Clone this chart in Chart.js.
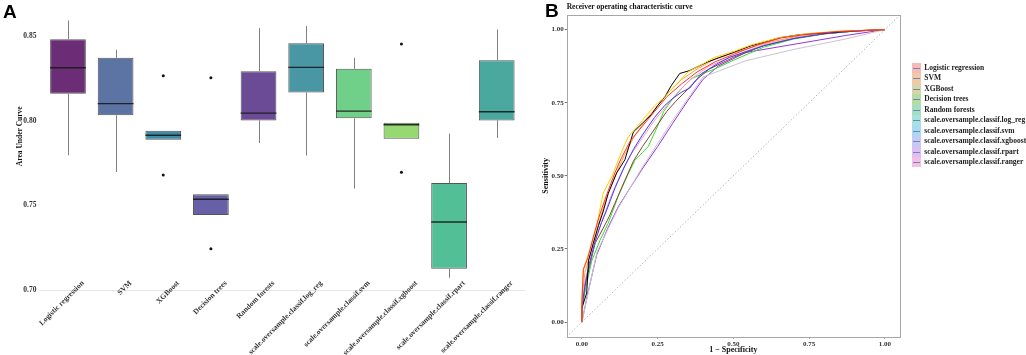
<!DOCTYPE html>
<html><head><meta charset="utf-8">
<script src="https://cdn.jsdelivr.net/npm/chart.js@4/dist/chart.umd.min.js"></script>
<style>
html,body{margin:0;padding:0;background:#fff;width:1026px;height:355px;overflow:hidden;}
#wrapA{position:absolute;left:0;top:0;width:530px;height:355px;}
#wrapB{position:absolute;left:530px;top:0;width:496px;height:355px;}
.panel{position:absolute;font-family:"Liberation Sans",Arial,sans-serif;font-weight:bold;font-size:19px;line-height:19px;color:#000;}
#legend{position:absolute;left:912px;top:63px;font-family:"Liberation Serif",serif;font-weight:bold;font-size:7.5px;color:#222;}
.row{position:relative;height:10.44px;white-space:nowrap;}
.key{position:absolute;left:0;top:0;width:9px;height:10.44px;}
.key i{position:absolute;left:1px;right:1px;top:5px;height:1px;background:#6f86b8;}
.lbl{position:absolute;left:12.3px;top:0;line-height:10.44px;}
</style></head>
<body>
<div id="wrapA"><canvas id="cA" width="530" height="355"></canvas></div>
<div id="wrapB"><canvas id="cB" width="496" height="355"></canvas></div>
<div class="panel" style="left:3px;top:2px;">A</div>
<div class="panel" style="left:545px;top:1px;">B</div>
<div id="legend"></div>
<script>
// ---------- Panel A data ----------
const categories = ['Logistic regression','SVM','XGBoost','Decision trees','Random forests',
  'scale.oversample.classif.log_reg','scale.oversample.classif.svm','scale.oversample.classif.xgboost',
  'scale.oversample.classif.rpart','scale.oversample.classif.ranger'];
const whiskerLow  = [0.7797,0.7698,0.7889,0.7444,0.7869,0.7795,0.7600,0.7894,0.7073,0.7900];
const q1          = [0.8160,0.8033,0.7889,0.7444,0.8003,0.8168,0.8015,0.7894,0.7126,0.8003];
const medians     = [0.8314,0.8102,0.7915,0.7537,0.8046,0.8316,0.8058,0.7977,0.7403,0.8054];
const q3          = [0.8483,0.8373,0.7942,0.7566,0.8294,0.8459,0.8308,0.7989,0.7633,0.8359];
const whiskerHigh = [0.8594,0.8420,0.7942,0.7566,0.8548,0.8560,0.8373,0.7989,0.7925,0.8540];
const outlierCat  = [3,3,4,4,8,8];
const outlierVal  = [0.8267,0.7680,0.8255,0.7244,0.8455,0.7696];
const boxColors = ['#6b2d76','#5c74a3','#3f8ca8','#6661a6','#6b4b96','#4996a5','#70cf88','#96d972','#52bf96','#4aa99f'];
const yTicksA = [0.70,0.75,0.80,0.85];

// ---------- Panel B data ----------
const seriesNames = ['Logistic regression','SVM','XGBoost','Decision trees','Random forests',
  'scale.oversample.classif.log_reg','scale.oversample.classif.svm','scale.oversample.classif.xgboost',
  'scale.oversample.classif.rpart','scale.oversample.classif.ranger'];
const legendKeyColors = ['#f7bab6','#f0caa6','#d9d5a6','#b6dca6','#a6dfc0','#a6e2de','#aad9f3','#c4c9f5','#ddbef5','#f5bee4'];
const curveColors = ['#ff3030','#ffd000','#000000','#cbc2cf','#3a3aff','#ff9ab0','#8b4030','#30e030','#9933dd','#ffa040'];
const rocLR = [[0,0],[0,0.06],[0.005,0.18],[0.02,0.22],[0.04,0.3],[0.06,0.37],[0.08,0.43],[0.109,0.51],[0.13,0.56],[0.16,0.62],[0.2,0.67],[0.24,0.72],[0.28,0.77],[0.33,0.815],[0.38,0.855],[0.44,0.89],[0.5,0.915],[0.58,0.948],[0.66,0.972],[0.75,0.985],[0.85,0.994],[1,1]];
const rocSVM = [[0,0],[0,0.09],[0.005,0.18],[0.027,0.25],[0.045,0.31],[0.07,0.44],[0.1,0.5],[0.13,0.58],[0.153,0.633],[0.2,0.69],[0.24,0.74],[0.268,0.764],[0.3,0.8],[0.35,0.855],[0.438,0.905],[0.5,0.925],[0.56,0.948],[0.65,0.972],[0.75,0.987],[0.85,0.995],[1,1]];
const rocXGB = [[0,0],[0,0.048],[0.016,0.099],[0.022,0.21],[0.038,0.27],[0.055,0.33],[0.071,0.38],[0.087,0.44],[0.115,0.51],[0.142,0.555],[0.17,0.65],[0.2,0.68],[0.23,0.71],[0.25,0.74],[0.274,0.77],[0.296,0.81],[0.323,0.85],[0.356,0.86],[0.416,0.89],[0.482,0.915],[0.559,0.945],[0.652,0.972],[0.72,0.983],[0.816,0.99],[0.9,0.996],[1,1]];
const rocDT = [[0,0],[0.05,0.24],[0.12,0.39],[0.2,0.53],[0.3,0.69],[0.4,0.838],[0.542,0.894],[0.707,0.934],[0.871,0.968],[1,1]];
const rocRF = [[0,0],[0,0.05],[0.011,0.13],[0.025,0.2],[0.045,0.28],[0.065,0.34],[0.082,0.383],[0.11,0.46],[0.14,0.53],[0.17,0.59],[0.2,0.64],[0.24,0.7],[0.274,0.741],[0.3,0.765],[0.329,0.786],[0.356,0.8],[0.394,0.849],[0.45,0.885],[0.487,0.905],[0.6,0.945],[0.7,0.97],[0.8,0.986],[0.9,0.995],[1,1]];
const rocLogReg = [[0,0],[0,0.05],[0.01,0.14],[0.03,0.22],[0.05,0.3],[0.075,0.37],[0.1,0.44],[0.13,0.51],[0.16,0.57],[0.2,0.63],[0.24,0.69],[0.28,0.74],[0.32,0.79],[0.36,0.83],[0.42,0.875],[0.5,0.91],[0.6,0.948],[0.7,0.972],[0.8,0.987],[0.9,0.995],[1,1]];
const rocSvmOS = [[0,0],[0,0.04],[0.01,0.12],[0.025,0.19],[0.044,0.27],[0.07,0.32],[0.09,0.36],[0.109,0.406],[0.14,0.48],[0.17,0.55],[0.2,0.6],[0.24,0.66],[0.28,0.72],[0.31,0.755],[0.34,0.786],[0.38,0.83],[0.42,0.865],[0.5,0.905],[0.6,0.945],[0.7,0.97],[0.8,0.986],[0.9,0.995],[1,1]];
const rocXgbOS = [[0,0],[0,0.04],[0.01,0.1],[0.02,0.15],[0.033,0.21],[0.06,0.28],[0.087,0.338],[0.12,0.43],[0.15,0.5],[0.175,0.553],[0.2,0.58],[0.219,0.6],[0.25,0.67],[0.27,0.72],[0.296,0.758],[0.33,0.8],[0.361,0.832],[0.4,0.85],[0.438,0.865],[0.5,0.895],[0.6,0.94],[0.7,0.968],[0.8,0.985],[0.9,0.995],[1,1]];
const rocRpartOS = [[0,0],[0.02,0.1],[0.049,0.23],[0.085,0.32],[0.12,0.394],[0.16,0.46],[0.197,0.52],[0.25,0.6],[0.3,0.68],[0.35,0.758],[0.4,0.83],[0.45,0.875],[0.542,0.922],[0.707,0.951],[0.871,0.98],[1,1]];
const rocRangerOS = [[0,0],[0,0.07],[0.01,0.17],[0.03,0.24],[0.05,0.32],[0.08,0.42],[0.11,0.5],[0.14,0.57],[0.17,0.63],[0.21,0.69],[0.25,0.74],[0.29,0.79],[0.33,0.83],[0.38,0.865],[0.44,0.9],[0.5,0.92],[0.6,0.952],[0.7,0.975],[0.8,0.988],[0.9,0.996],[1,1]];
const rocSeries = [rocLR,rocSVM,rocXGB,rocDT,rocRF,rocLogReg,rocSvmOS,rocXgbOS,rocRpartOS,rocRangerOS];
const rocTicks = [0,0.25,0.5,0.75,1];
const diagonal = [[-0.05,-0.05],[1.05,1.05]];

const SERIF = '"Liberation Serif","Times New Roman",serif';
Chart.defaults.font.family = SERIF;
Chart.defaults.color = '#333';

// ---------- Panel A ----------
const boxExtras = {
  id:'boxExtras',
  beforeDatasetsDraw(chart){
    const ctx = chart.ctx, xs = chart.scales.x, ys = chart.scales.y;
    ctx.save();
    // gridline at 0.70
    ctx.strokeStyle = '#e6e6e6'; ctx.lineWidth = 1;
    const gy = Math.round(ys.getPixelForValue(yTicksA[0])) + 0.5;
    ctx.beginPath(); ctx.moveTo(chart.chartArea.left, gy); ctx.lineTo(chart.chartArea.right, gy); ctx.stroke();
    ctx.strokeStyle = '#808080';
    categories.forEach((c,i)=>{
      const x = Math.round(xs.getPixelForValue(i+1)) + 0.5;
      ctx.beginPath();
      ctx.moveTo(x, ys.getPixelForValue(whiskerLow[i])); ctx.lineTo(x, ys.getPixelForValue(q1[i]));
      ctx.moveTo(x, ys.getPixelForValue(q3[i])); ctx.lineTo(x, ys.getPixelForValue(whiskerHigh[i]));
      ctx.stroke();
    });
    ctx.restore();
  },
  afterDatasetsDraw(chart){
    const ctx = chart.ctx, ys = chart.scales.y;
    const meta = chart.getDatasetMeta(0);
    ctx.save();
    ctx.strokeStyle = 'rgba(25,25,25,0.9)'; ctx.lineWidth = 1.4;
    meta.data.forEach((el,i)=>{
      const y = ys.getPixelForValue(medians[i]);
      ctx.beginPath(); ctx.moveTo(el.x - el.width/2, y); ctx.lineTo(el.x + el.width/2, y); ctx.stroke();
    });
    ctx.restore();
  },
  afterDraw(chart){
    const ctx = chart.ctx, xs = chart.scales.x, ca = chart.chartArea;
    ctx.save();
    ctx.fillStyle = '#333';
    ctx.font = 'bold 7.5px ' + SERIF;
    ctx.textAlign = 'right'; ctx.textBaseline = 'middle';
    categories.forEach((c,i)=>{
      const x = xs.getPixelForValue(i+1);
      ctx.save();
      ctx.translate(x + 15, ca.bottom - 9);
      ctx.rotate(-Math.PI/4);
      ctx.fillText(c, 0, 0);
      ctx.restore();
    });
    ctx.fillStyle = '#111';
    ctx.font = 'bold 7.5px ' + SERIF;
    ctx.textAlign = 'center';
    ctx.translate(20, (ca.top + ca.bottom)/2 - 13);
    ctx.rotate(-Math.PI/2);
    ctx.fillText('Area Under Curve', 0, 0);
    ctx.restore();
  }
};

new Chart(document.getElementById('cA'), {
  type:'bar',
  data:{
    datasets:[
      { type:'bar', data: categories.map((c,i)=>({x:i+1, y:[q1[i], q3[i]]})),
        backgroundColor: boxColors, borderColor:'rgba(55,55,55,0.85)', borderWidth:1, borderSkipped:false,
        barPercentage:0.75, categoryPercentage:1 },
      { type:'scatter', data: outlierCat.map((c,i)=>({x:c, y:outlierVal[i]})),
        backgroundColor:'#111', borderColor:'#111', pointRadius:1.5, pointBorderWidth:0 }
    ]
  },
  options:{
    responsive:false, animation:false, devicePixelRatio:1,
    layout:{padding:{left:0,right:4.7,top:7,bottom:0}},
    plugins:{legend:{display:false}, tooltip:{enabled:false}},
    scales:{
      x:{ type:'linear', min:0.4, max:10.6, offset:false,
          afterBuildTicks(s){ s.ticks = categories.map((c,i)=>({value:i+1})); },
          afterFit(s){ s.height = 64; },
          ticks:{display:false}, grid:{display:false}, border:{display:false} },
      y:{ min:0.6995, max:0.867,
          afterBuildTicks(s){ s.ticks = yTicksA.map(v=>({value:v})); },
          afterFit(s){ s.width = 39.4; },
          ticks:{ callback:v=>v.toFixed(2), font:{size:7.5, weight:'bold', family:SERIF}, color:'#333', padding:3 },
          grid:{display:false, drawTicks:false}, border:{display:false} }
    }
  },
  plugins:[boxExtras]
});

// ---------- Panel B ----------
const rocExtras = {
  id:'rocExtras',
  afterDraw(chart){
    const ctx = chart.ctx, ca = chart.chartArea;
    ctx.save();
    ctx.strokeStyle = '#a6a6a6'; ctx.lineWidth = 1;
    ctx.strokeRect(Math.round(ca.left)+0.5, Math.round(ca.top)+0.5, Math.round(ca.right-ca.left), Math.round(ca.bottom-ca.top));
    ctx.fillStyle = '#111';
    ctx.font = 'bold 7.5px ' + SERIF;
    ctx.textAlign = 'left'; ctx.textBaseline = 'middle';
    ctx.fillText('Receiver operating characteristic curve', ca.left, 7);
    ctx.restore();
  }
};

const rocDatasets = rocSeries.map((pts,i)=>({
  label: seriesNames[i],
  data: pts.map(p=>({x:p[0], y:p[1]})),
  borderColor: curveColors[i], borderWidth:1, pointRadius:0, showLine:true, tension:0, fill:false
}));
rocDatasets.push({
  label:'diag', data: diagonal.map(p=>({x:p[0], y:p[1]})),
  borderColor:'#b5b5b5', borderWidth:1, borderDash:[1.5,2], pointRadius:0, showLine:true
});

new Chart(document.getElementById('cB'), {
  type:'scatter',
  data:{ datasets: rocDatasets },
  options:{
    responsive:false, animation:false, devicePixelRatio:1,
    layout:{padding:{left:0,right:126,top:15,bottom:0}},
    plugins:{legend:{display:false}, tooltip:{enabled:false}},
    scales:{
      x:{ type:'linear', min:-0.05, max:1.05,
          afterBuildTicks(s){ s.ticks = rocTicks.map(v=>({value:v})); },
          afterFit(s){ s.height = 18.3; },
          ticks:{ callback:v=>v.toFixed(2), font:{size:7, weight:'bold', family:SERIF}, color:'#333', padding:1, maxRotation:0 },
          grid:{ drawOnChartArea:false, tickLength:2, tickColor:'#777' }, border:{display:false},
          title:{ display:true, text:'1 − Specificity', font:{size:8, weight:'bold', family:SERIF}, color:'#111', padding:0 } },
      y:{ type:'linear', min:-0.05, max:1.05,
          afterBuildTicks(s){ s.ticks = rocTicks.map(v=>({value:v})); },
          afterFit(s){ s.width = 36.7; },
          ticks:{ callback:v=>v.toFixed(2), font:{size:7, weight:'bold', family:SERIF}, color:'#333', padding:1 },
          grid:{ drawOnChartArea:false, tickLength:2, tickColor:'#777' }, border:{display:false},
          title:{ display:true, text:'Sensitivity', font:{size:8, weight:'bold', family:SERIF}, color:'#111', padding:{top:11,bottom:0} } }
    }
  },
  plugins:[rocExtras]
});

// ---------- Legend (HTML) ----------
const leg = document.getElementById('legend');
seriesNames.forEach((n,i)=>{
  const r = document.createElement('div'); r.className='row';
  const k = document.createElement('div'); k.className='key'; k.style.background = legendKeyColors[i];
  k.appendChild(document.createElement('i'));
  const t = document.createElement('div'); t.className='lbl'; t.textContent = n;
  r.appendChild(k); r.appendChild(t); leg.appendChild(r);
});
</script>
</body></html>
